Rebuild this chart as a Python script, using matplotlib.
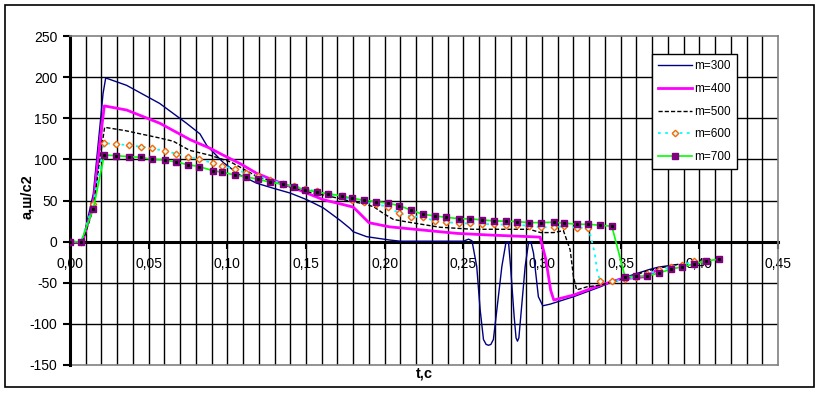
import numpy as np
import matplotlib
matplotlib.use("Agg")
import matplotlib.pyplot as plt
from matplotlib.patches import Rectangle

plt.rcParams['font.family'] = ['Liberation Sans', 'DejaVu Sans']
plt.rcParams['axes.unicode_minus'] = False

# ---------------- data ----------------
t300 = [0, 0.005, 0.008, 0.0148, 0.019, 0.021, 0.0227, 0.036, 0.057, 0.074, 0.0826, 0.0869,
        0.0975, 0.108, 0.1187, 0.129, 0.14, 0.1505, 0.161, 0.1716, 0.178, 0.18, 0.1886, 0.203,
        0.21, 0.25, 0.2533, 0.2555, 0.2585, 0.2607, 0.2628, 0.2645, 0.266, 0.2675, 0.2691,
        0.2713, 0.2745, 0.277, 0.2787, 0.28, 0.2823, 0.2835, 0.2844, 0.2853, 0.2865, 0.2893,
        0.2914, 0.2929, 0.2946, 0.2977, 0.3005, 0.3052, 0.32, 0.337, 0.3475, 0.368, 0.374, 0.385]
a300 = [0, -1, 0, 58, 140, 180, 199, 190, 168, 144, 131, 117,
        96, 81, 71, 65, 59, 51, 41, 26, 16, 12, 6, 2,
        0.5, 0.5, 3, 1, -30, -83, -119, -125, -126, -125, -119,
        -83, -30, -2, 0, -30, -91, -117, -121, -117, -91, -30,
        -2, 0, -14, -67, -78, -76, -67, -55, -46.5, -34, -31, -28]

t400 = [0, 0.005, 0.008, 0.0148, 0.019, 0.0218, 0.036, 0.057, 0.0763, 0.089, 0.0975, 0.108,
        0.1187, 0.129, 0.14, 0.1505, 0.161, 0.1716, 0.18, 0.184, 0.19, 0.203, 0.2245, 0.246,
        0.267, 0.2988, 0.2998, 0.3025, 0.3055, 0.3075, 0.32, 0.337, 0.3497, 0.3665, 0.374]
a400 = [0, -1, 0, 45, 120, 165, 160, 144, 124, 113.5, 105, 95,
        83, 75, 67, 59, 51, 46, 42, 34.5, 23, 18, 14, 10,
        8, 5.5, -2, -22, -59, -71, -65, -53, -45.7, -42.5, -33]

t500 = [0, 0.005, 0.008, 0.0148, 0.019, 0.022, 0.035, 0.057, 0.0657, 0.076, 0.089, 0.102,
        0.119, 0.1356, 0.150, 0.170, 0.178, 0.184, 0.193, 0.199, 0.2055, 0.214, 0.227, 0.235,
        0.256, 0.271, 0.292, 0.299, 0.3075, 0.3136, 0.3179, 0.32, 0.322, 0.3285, 0.337, 0.35,
        0.37, 0.388]
a500 = [0, -1, 0, 40, 100, 139, 135, 126, 122, 111, 105, 97,
        79, 69, 61, 53, 49, 47, 42.5, 34.5, 27, 24, 20, 17.5,
        15, 15, 15, 11, 11, 13.4, -10, -42.5, -58.7, -55, -53, -46,
        -34, -27]

t600 = [0, 0.007, 0.0148, 0.0218, 0.0291, 0.0375, 0.0449, 0.0519, 0.0602, 0.0676, 0.0748,
        0.0822, 0.0907, 0.0968, 0.1049, 0.1121, 0.1197, 0.1271, 0.1354, 0.1424, 0.1496, 0.1572,
        0.1642, 0.1727, 0.1795, 0.1871, 0.1947, 0.2024, 0.2092, 0.2170, 0.2242, 0.2320, 0.2390,
        0.2473, 0.2545, 0.2619, 0.2697, 0.2774, 0.2844, 0.2918, 0.2994, 0.3075, 0.3142, 0.3223,
        0.3295, 0.3315, 0.3335, 0.335, 0.3369, 0.3444, 0.3528, 0.3596, 0.3670, 0.3743, 0.3823,
        0.3893, 0.3967]
a600 = [0, -0.5, 45.8, 119.6, 118.7, 117.1, 115.5, 113.5, 110.3, 107, 103,
        100.3, 95.5, 92.2, 88, 83, 79.6, 74.7, 70.6, 67.4, 64.2, 61,
        58, 55, 50.6, 48.2, 45.8, 41.8, 34.5, 30.4, 30.4, 24.7, 23.9,
        22.2, 22.2, 21.5, 21.1, 20.7, 20, 19.5, 17.5, 17.5, 18.7, 16.8,
        16.8, 2, -14, -35, -48, -48.2, -45.7, -43, -39, -35, -31,
        -28, -24]

t700 = [0, 0.007, 0.0148, 0.0218, 0.0291, 0.0375, 0.0449, 0.0519, 0.0602, 0.0676, 0.0748,
        0.0822, 0.0907, 0.0968, 0.1049, 0.1121, 0.1197, 0.1271, 0.1354, 0.1424, 0.1496, 0.1572,
        0.1642, 0.1727, 0.1795, 0.1871, 0.1947, 0.2024, 0.2092, 0.2170, 0.2242, 0.2320, 0.2390,
        0.2473, 0.2545, 0.2619, 0.2697, 0.2774, 0.2844, 0.2918, 0.2994, 0.3075, 0.3142, 0.3223,
        0.3295, 0.3369, 0.3444, 0.3528, 0.3596, 0.3670, 0.3743, 0.3823, 0.3893, 0.3967, 0.4041,
        0.4126]
a700 = [0, -0.5, 39.7, 105.3, 104.5, 103.3, 102.6, 100.1, 99.3, 96.8, 93.6,
        91.2, 86.3, 84.3, 81.0, 78.6, 75.8, 72.2, 69.7, 66.8, 63.2, 60.1,
        58.3, 55.5, 52.7, 50.3, 48.6, 46.7, 43.7, 38.2, 33.3, 31.2, 29.6,
        27.9, 27.6, 26.4, 25.2, 24.8, 24.3, 23.1, 23.1, 23.6, 22.4, 21.1,
        21.1, 19.9, 18.7, -42.9, -42, -42, -38, -33.5, -30.4, -27.1, -23.5,
        -21.4]

series_labels = ['m=300', 'm=400', 'm=500', 'm=600', 'm=700']
x_ticks = [0.00, 0.05, 0.10, 0.15, 0.20, 0.25, 0.30, 0.35, 0.40, 0.45]
x_tick_labels = ['0,00', '0,05', '0,10', '0,15', '0,20', '0,25', '0,30', '0,35', '0,40', '0,45']
y_ticks = [-150, -100, -50, 0, 50, 100, 150, 200, 250]
y_tick_labels = ['-150', '-100', '-50', '0', '50', '100', '150', '200', '250']
x_label = 't,c'
y_label = 'a,ш/c2'

# ---------------- figure ----------------
W, H = 821, 393
fig = plt.figure(figsize=(W / 100, H / 100), dpi=100)
fig.patch.set_facecolor('white')
fig.patches.append(Rectangle((5 / W, (H - 387) / H), 809 / W, 382 / H, transform=fig.transFigure,
                             fill=False, edgecolor='black', linewidth=1.2))

ax_l, ax_r, ax_t, ax_b = 70, 778, 36, 365
ax = fig.add_axes([ax_l / W, (H - ax_b) / H, (ax_r - ax_l) / W, (ax_b - ax_t) / H])
ax.set_xlim(0, 0.45)
ax.set_ylim(-150, 250)

# grid
for gx in np.arange(1, 45) * 0.01:
    ax.axvline(gx, color='black', lw=1.0, zorder=1)
for gy in y_ticks[1:-1]:
    ax.axhline(gy, color='black', lw=1.0, zorder=1)
ax.axhline(-150, color='#808080', lw=1.2, zorder=1, clip_on=False)

# series
ax.plot(t300, a300, color='#000080', lw=1.0, zorder=3, label=series_labels[0])
ax.plot(t400, a400, color='#FF00FF', lw=2.0, zorder=3, label=series_labels[1])
ax.plot(t500, a500, color='black', lw=1.0, ls=(0, (3, 1.5)), zorder=4, label=series_labels[2])
mk600 = [i for i in range(len(t600)) if i not in (45, 46, 47)]
ax.plot(t600, a600, color='#00FFFF', lw=1.3, ls=(0, (1.5, 2.5)), marker='D', markersize=3.3,
        markerfacecolor='#CCFFFF', markeredgecolor='#FF6600', markeredgewidth=1.0,
        markevery=mk600, zorder=5, label=series_labels[3])
ax.plot(t700, a700, color='#00FF00', lw=1.2, marker='s', markersize=4.2,
        markerfacecolor='#800080', markeredgecolor='#800080', zorder=6, label=series_labels[4])
ax.plot(t700, a700, ls='none', marker='s', markersize=1.2, color='black', zorder=7)

# spines
ax.spines['bottom'].set_position(('data', 0))
ax.spines['bottom'].set_linewidth(2.2)
ax.spines['bottom'].set_zorder(2)
ax.spines['left'].set_linewidth(2.2)
for s in ('top', 'right'):
    ax.spines[s].set_color('#808080')
    ax.spines[s].set_linewidth(1.2)

ax.set_xticks(x_ticks)
ax.set_xticklabels(x_tick_labels)
ax.set_yticks(y_ticks)
ax.set_yticklabels(y_tick_labels)
ax.tick_params(axis='x', direction='out', length=5, width=1.5, pad=6, labelsize=10)
ax.tick_params(axis='y', direction='out', length=5, width=1.5, pad=4, labelsize=10)

fig.text(424 / W, (H - 373) / H, x_label, ha='center', va='center', fontsize=10.5, fontweight='bold')
fig.text(27 / W, (H - 197) / H, y_label, ha='center', va='center', fontsize=10.5,
         fontweight='bold', rotation=90)

leg = ax.legend(loc='upper left', bbox_to_anchor=((652 - ax_l) / (ax_r - ax_l), (ax_b - 54) / (ax_b - ax_t)),
                borderaxespad=0, fontsize=8.5, handlelength=2.8, handletextpad=0.2,
                labelspacing=0.9, borderpad=0.55, fancybox=False, framealpha=1,
                edgecolor='black', markerscale=1.0)
leg.get_frame().set_linewidth(1.0)
leg.set_zorder(10)

fig.savefig('out.png', dpi=100, facecolor='white')
